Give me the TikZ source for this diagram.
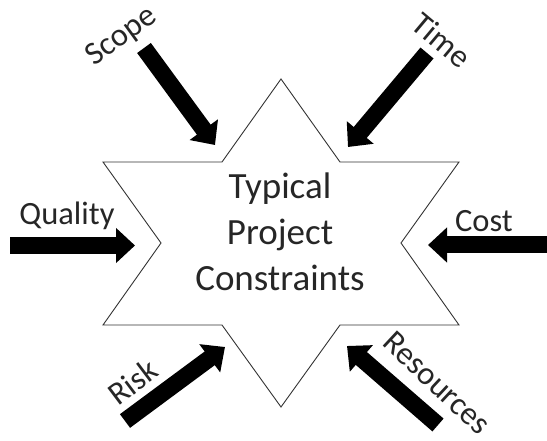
\documentclass[tikz,border=0pt]{standalone}
\usepackage{fontspec}
\setmainfont{Carlito}
\usetikzlibrary{arrows.meta}

\tikzset{
  blockarrow/.style={line width=17pt, -{Triangle[length=19pt,width=34pt]}},
  starline/.style={line width=0.9pt, draw=black!80, line join=miter},
  label/.style={font=\fontsize{32.5}{36}\selectfont, text=black!85, inner sep=0pt},
}

\begin{document}
\begin{tikzpicture}[x=1pt,y=-1pt]
    \useasboundingbox (0,0) rectangle (547,441);

    % Stern aus zwei Dreiecken
    \draw[starline] (281,79) -- (222,162) -- (103,162) -- (161,243)
        -- (103,325) -- (222,325) -- (281,407) -- (340,325)
        -- (459,325) -- (401,243) -- (459,162) -- (340,162) -- cycle;

    \node[font=\fontsize{37}{46}\selectfont, align=center, text=black!85] (title) at (280,232)
        {Typical\\Project\\Constraints};

    % Pfeile: Anfang und Spitze
    \coordinate (scopeA) at (144,48);
    \coordinate (scopeB) at (215,145);
    \coordinate (timeA) at (427,53);
    \coordinate (timeB) at (348,147);
    \coordinate (qualityA) at (10,245.5);
    \coordinate (qualityB) at (135,245.5);
    \coordinate (costA) at (548,245);
    \coordinate (costB) at (428,245);
    \coordinate (riskA) at (125,421);
    \coordinate (riskB) at (225,347);
    \coordinate (resA) at (438,425);
    \coordinate (resB) at (347,346);

    \draw[blockarrow] (scopeA) -- (scopeB);
    \draw[blockarrow] (timeA) -- (timeB);
    \draw[blockarrow] (qualityA) -- (qualityB);
    \draw[blockarrow] (costA) -- (costB);
    \draw[blockarrow] (riskA) -- (riskB);
    \draw[blockarrow] (resA) -- (resB);

    % Beschriftungen
    \node[label, rotate=36] (scope) at (122,37) {Scope};
    \node[label, rotate=-40] (time) at (442,40) {Time};
    \node[label, anchor=base] (quality) at (67,225) {Quality};
    \node[label, anchor=base] (cost) at (484,232) {Cost};
    \node[label, rotate=37] (risk) at (133,382) {Risk};
    \node[label, rotate=-43] (res) at (437,383) {Resources};
\end{tikzpicture}
\end{document}
